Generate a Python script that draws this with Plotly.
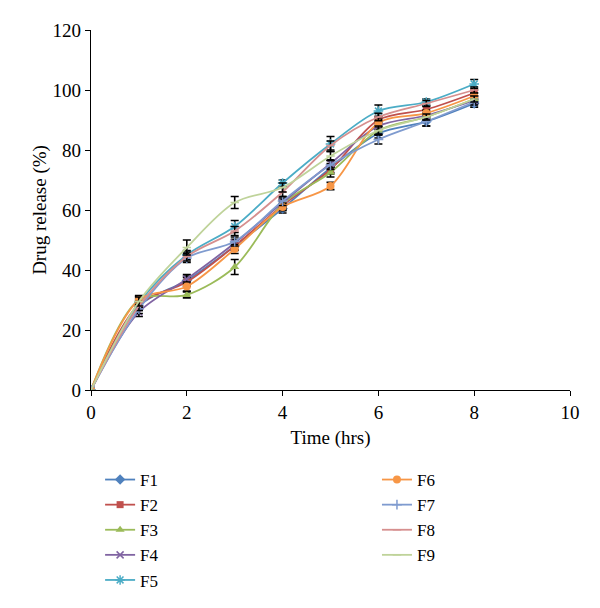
import plotly.graph_objects as go

time_hrs = [0, 1, 2, 3, 4, 5, 6, 7, 8]
names = ["F1", "F2", "F3", "F4", "F5", "F6", "F7", "F8", "F9"]

F1 = [0, 28.0, 36.5, 48.0, 60.5, 74.0, 85.5, 89.5, 95.5]
F2 = [0, 28.5, 36.0, 48.0, 61.5, 73.5, 90.0, 93.5, 99.0]
F3 = [0, 30.0, 31.7, 41.0, 62.0, 72.5, 86.5, 91.0, 97.0]
F4 = [0, 26.0, 37.0, 49.0, 62.5, 75.5, 88.0, 91.5, 96.5]
F5 = [0, 29.0, 45.0, 54.5, 69.0, 82.0, 93.0, 96.0, 102.0]
F6 = [0, 30.0, 34.5, 47.0, 61.0, 68.0, 89.0, 92.3, 98.0]
F7 = [0, 27.0, 44.0, 49.5, 63.0, 75.0, 83.5, 89.5, 96.0]
F8 = [0, 28.0, 44.5, 53.0, 66.0, 81.5, 91.0, 95.5, 100.0]
F9 = [0, 29.5, 47.5, 62.5, 67.5, 78.0, 86.5, 91.0, 97.0]

E1 = [0, 1.5, 1.5, 1.5, 1.5, 1.5, 1.5, 1.5, 1.2]
E2 = [0, 1.5, 1.5, 1.2, 1.5, 1.5, 1.2, 1.2, 1.0]
E3 = [0, 1.2, 1.0, 2.5, 1.5, 1.5, 1.2, 1.0, 1.0]
E4 = [0, 1.5, 1.5, 1.2, 1.5, 1.2, 1.2, 1.0, 1.0]
E5 = [0, 1.5, 1.5, 2.0, 1.0, 2.5, 2.0, 1.0, 1.5]
E6 = [0, 1.5, 1.5, 1.5, 1.2, 1.2, 1.2, 1.0, 1.0]
E7 = [0, 1.5, 1.5, 1.5, 1.5, 1.5, 1.5, 1.5, 1.0]
E8 = [0, 1.5, 1.5, 1.5, 1.5, 1.5, 1.2, 1.0, 1.0]
E9 = [0, 1.5, 2.5, 2.0, 1.5, 1.5, 1.5, 1.0, 1.0]

series = [F1, F2, F3, F4, F5, F6, F7, F8, F9]
errors = [E1, E2, E3, E4, E5, E6, E7, E8, E9]
colors = ["#4F81BD", "#C0504D", "#9BBB59", "#8064A2", "#4BACC6",
          "#F79646", "#7F9BCF", "#D68F8E", "#BFD39A"]
symbols = ["diamond", "square", "triangle-up", "x-thin-open", "asterisk-open",
           "circle", "cross-thin-open", "line-ew-open", "line-ew-open"]
sizes = [8, 7, 8, 7, 8, 8, 7, 6, 6]

FONT = "Liberation Serif, Times New Roman, serif"

fig = go.Figure()
for i, (nm, ys, es) in enumerate(zip(names, series, errors)):
    open_sym = symbols[i].endswith("-open")
    fig.add_trace(go.Scatter(
        x=time_hrs, y=ys, name=nm,
        mode="lines+markers",
        line=dict(color=colors[i], width=1.8, shape="spline", smoothing=0.9),
        marker=dict(symbol=symbols[i], size=sizes[i], color=colors[i],
                    line=dict(color=colors[i], width=1.5 if open_sym else 0)),
        error_y=dict(type="data", array=es, color="black", thickness=1.6, width=4),
        legend="legend" if i < 5 else "legend2",
    ))

axis_common = dict(
    showline=True, linecolor="black", linewidth=1.3,
    ticks="outside", ticklen=5, tickcolor="black", tickwidth=1.3,
    showgrid=False, zeroline=False,
    tickfont=dict(family=FONT, size=19, color="black"),
)

fig.update_layout(
    width=600, height=608,
    margin=dict(l=83, r=38, t=22, b=226),
    paper_bgcolor="white", plot_bgcolor="white",
    font=dict(family=FONT, size=19, color="black"),
    xaxis=dict(range=[0, 10], dtick=2, tick0=0,
               title=dict(text="Time (hrs)", font=dict(family=FONT, size=19), standoff=8),
               **axis_common),
    yaxis=dict(range=[0, 120], dtick=20, tick0=0,
               title=dict(text="Drug release (%)", font=dict(family=FONT, size=19), standoff=0),
               **axis_common),
    legend=dict(x=0.019, xanchor="left", y=-0.2, yanchor="top",
                orientation="v", bgcolor="rgba(0,0,0,0)",
                font=dict(family=FONT, size=17, color="black")),
    legend2=dict(x=0.597, xanchor="left", y=-0.2, yanchor="top",
                 orientation="v", bgcolor="rgba(0,0,0,0)",
                 font=dict(family=FONT, size=17, color="black")),
    showlegend=True,
)

fig.write_html("out.html")
